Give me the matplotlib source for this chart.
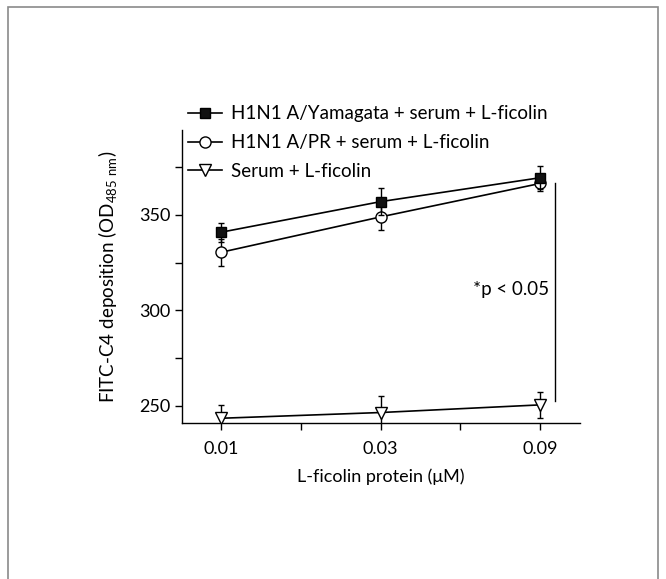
import numpy as np
import matplotlib.pyplot as plt
from matplotlib.patches import Rectangle
from matplotlib.lines import Line2D

plt.rcParams['font.family'] = ['Lato', 'DejaVu Sans']
plt.rcParams['mathtext.fontset'] = 'custom'
plt.rcParams['mathtext.rm'] = 'Lato'

# Datos
concentraciones = ['0.01', '0.03', '0.09']
yamagata = [341, 357, 369.5]
yamagata_err = [5, 7, 6]
pr = [330.5, 349, 366.5]
pr_err = [7, 7, 4]
suero = [243.5, 246.5, 250.5]
suero_err = [7, 8.5, 7]
etiquetas = ['H1N1 A/Yamagata + serum + L-ficolin',
             'H1N1 A/PR + serum + L-ficolin',
             'Serum + L-ficolin']

fig = plt.figure(figsize=(6.66, 5.79), dpi=100)
ax = fig.add_axes([0.274, 0.2694, 0.5965, 0.506])

# Marco gris alrededor de la figura
fig.patches.append(Rectangle((0.012, -0.05), 0.976, 1.038, transform=fig.transFigure,
                             fill=False, edgecolor='#8a8a8a', linewidth=1.2))

x = np.arange(len(concentraciones))
estilo = dict(color='black', linewidth=1.2, elinewidth=1, capsize=2.5, capthick=1)

# Estilos de marcador de cada serie
m_suero = dict(marker='v', markersize=9, markerfacecolor='white', markeredgecolor='black', markeredgewidth=1)
m_pr = dict(marker='o', markersize=8, markerfacecolor='white', markeredgecolor='black', markeredgewidth=1)
m_yam = dict(marker='s', markersize=7, markerfacecolor='#111111', markeredgecolor='black')

ax.errorbar(x, suero, yerr=suero_err, zorder=3, **m_suero, **estilo)
ax.errorbar(x, pr, yerr=pr_err, zorder=4, **m_pr, **estilo)
ax.errorbar(x, yamagata, yerr=yamagata_err, zorder=5, **m_yam, **estilo)

# Línea de significancia
ax.plot([2.094, 2.094], [252.5, 366.8], color='black', linewidth=1)
ax.text(2.06, 311, '*p < 0.05', ha='right', va='center', fontsize=13.5)

ax.set_xlim(-0.245, 2.25)
ax.set_ylim(241, 394.5)
ax.set_xticks(x)
ax.set_xticklabels(concentraciones)
ax.set_xticks([0.5, 1.5], minor=True)
ax.set_yticks([250, 300, 350])
ax.set_yticks([275, 325, 375], minor=True)
ax.tick_params(labelsize=13, length=5, width=1, direction='out')
ax.tick_params(which='minor', length=5, width=1)
ax.tick_params(axis='x', pad=8)
for s in ['top', 'right']:
    ax.spines[s].set_visible(False)
for s in ['left', 'bottom']:
    ax.spines[s].set_linewidth(1)

ax.set_xlabel('L-ficolin protein (μM)', fontsize=13, labelpad=8)
ax.set_ylabel(r'FITC-C4 deposition (OD$_{\mathregular{485\ nm}}$)', fontsize=13.5, labelpad=14)

# Leyenda sin barras de error
handles = [Line2D([], [], color='black', linewidth=1.2, **m_yam),
           Line2D([], [], color='black', linewidth=1.2, **m_pr),
           Line2D([], [], color='black', linewidth=1.2, **m_suero)]
fig.legend(handles, etiquetas, loc='upper left', bbox_to_anchor=(0.283, 0.818),
           frameon=False, fontsize=13.5, handlelength=1.8, handletextpad=0.45,
           labelspacing=0.63, borderpad=0, borderaxespad=0)

plt.savefig('out.png', dpi=100)
